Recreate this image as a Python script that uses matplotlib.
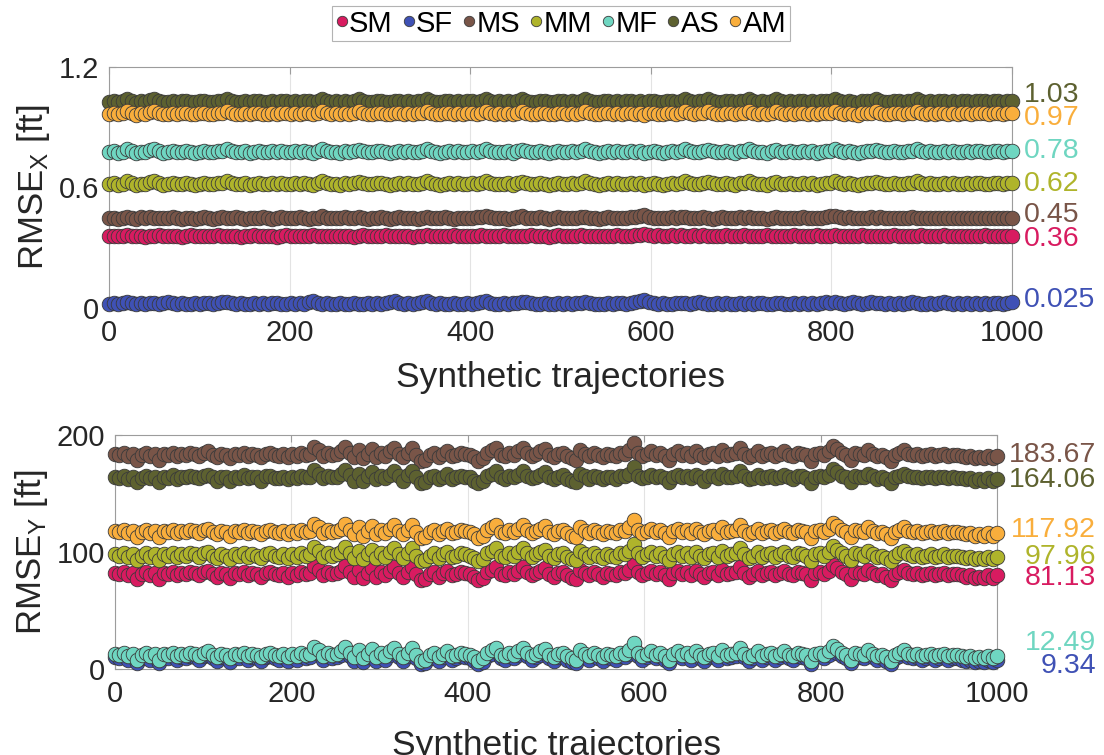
import numpy as np
import matplotlib
matplotlib.use("Agg")
import matplotlib.pyplot as plt
from matplotlib.lines import Line2D
from matplotlib.transforms import blended_transform_factory

plt.rcParams["font.family"] = ["Liberation Sans", "DejaVu Sans"]
plt.rcParams["mathtext.fontset"] = "custom"
plt.rcParams["mathtext.rm"] = "Liberation Sans"
plt.rcParams["mathtext.it"] = "Liberation Sans"

# ---------------------------------------------------------------- data
METHODS = ["SM", "SF", "MS", "MM", "MF", "AS", "AM"]
COLORS = ["#D81B60", "#3F51B5", "#795548", "#AFB42B", "#6FD6C1", "#5D6130", "#F9AE3C"]

# mean RMSE printed next to each series
MEAN_X = [0.36, 0.025, 0.45, 0.62, 0.78, 1.03, 0.97]
MEAN_Y = [81.13, 9.34, 183.67, 97.96, 12.49, 164.06, 117.92]

# RMSE_X [ft] per synthetic trajectory (200 sampled trajectories)
SM_X = [0.359, 0.357, 0.360, 0.358, 0.361, 0.357, 0.359, 0.358, 0.356, 0.360,
        0.358, 0.361, 0.357, 0.359, 0.358, 0.360, 0.356, 0.359, 0.361, 0.358,
        0.357, 0.360, 0.359, 0.358, 0.361, 0.357, 0.360, 0.358, 0.359, 0.356,
        0.360, 0.358, 0.361, 0.357, 0.359, 0.360, 0.358, 0.356, 0.359, 0.361,
        0.358, 0.360, 0.357, 0.359, 0.358, 0.361, 0.359, 0.357, 0.360, 0.358,
        0.359, 0.357, 0.360, 0.358, 0.356, 0.359, 0.361, 0.358, 0.360, 0.357,
        0.359, 0.361, 0.358, 0.357, 0.360, 0.358, 0.359, 0.356, 0.360, 0.358,
        0.361, 0.359, 0.357, 0.360, 0.358, 0.359, 0.361, 0.357, 0.358, 0.360,
        0.358, 0.360, 0.363, 0.359, 0.357, 0.360, 0.358, 0.361, 0.359, 0.357,
        0.360, 0.358, 0.359, 0.361, 0.357, 0.360, 0.358, 0.356, 0.359, 0.361,
        0.358, 0.360, 0.357, 0.359, 0.361, 0.358, 0.360, 0.357, 0.359, 0.358,
        0.360, 0.358, 0.361, 0.357, 0.359, 0.360, 0.362, 0.364, 0.366, 0.361,
        0.359, 0.362, 0.358, 0.360, 0.363, 0.359, 0.361, 0.358, 0.360, 0.362,
        0.359, 0.361, 0.358, 0.360, 0.357, 0.359, 0.361, 0.358, 0.360, 0.358,
        0.361, 0.359, 0.357, 0.360, 0.358, 0.361, 0.359, 0.357, 0.360, 0.358,
        0.359, 0.361, 0.358, 0.360, 0.357, 0.359, 0.361, 0.358, 0.360, 0.358,
        0.361, 0.359, 0.358, 0.360, 0.357, 0.359, 0.361, 0.358, 0.360, 0.359,
        0.357, 0.360, 0.358, 0.361, 0.359, 0.357, 0.360, 0.358, 0.359, 0.361,
        0.358, 0.360, 0.357, 0.359, 0.361, 0.358, 0.360, 0.358, 0.359, 0.357,
        0.360, 0.358, 0.359, 0.361, 0.358, 0.360, 0.357, 0.359, 0.360, 0.358]

SF_X = [0.022, 0.026, 0.020, 0.024, 0.030, 0.023, 0.019, 0.025, 0.021, 0.027,
        0.024, 0.020, 0.026, 0.030, 0.023, 0.021, 0.025, 0.022, 0.019, 0.024,
        0.021, 0.025, 0.023, 0.020, 0.026, 0.031, 0.028, 0.023, 0.020, 0.024,
        0.022, 0.019, 0.024, 0.021, 0.025, 0.020, 0.023, 0.026, 0.021, 0.019,
        0.023, 0.020, 0.025, 0.022, 0.030, 0.035, 0.026, 0.021, 0.024, 0.020,
        0.022, 0.026, 0.021, 0.019, 0.024, 0.022, 0.020, 0.025, 0.021, 0.023,
        0.020, 0.024, 0.030, 0.034, 0.025, 0.021, 0.023, 0.019, 0.024, 0.028,
        0.033, 0.026, 0.021, 0.024, 0.020, 0.022, 0.025, 0.021, 0.019, 0.023,
        0.021, 0.025, 0.029, 0.033, 0.026, 0.022, 0.020, 0.024, 0.021, 0.023,
        0.025, 0.028, 0.032, 0.027, 0.022, 0.020, 0.024, 0.021, 0.019, 0.023,
        0.021, 0.024, 0.020, 0.023, 0.027, 0.031, 0.025, 0.021, 0.019, 0.022,
        0.024, 0.020, 0.023, 0.026, 0.022, 0.025, 0.030, 0.036, 0.042, 0.030,
        0.024, 0.021, 0.025, 0.022, 0.020, 0.024, 0.027, 0.023, 0.020, 0.025,
        0.032, 0.026, 0.022, 0.020, 0.024, 0.021, 0.023, 0.019, 0.022, 0.025,
        0.021, 0.024, 0.020, 0.023, 0.026, 0.022, 0.019, 0.023, 0.025, 0.021,
        0.020, 0.024, 0.022, 0.026, 0.021, 0.023, 0.020, 0.025, 0.030, 0.027,
        0.032, 0.026, 0.022, 0.025, 0.029, 0.024, 0.021, 0.026, 0.031, 0.027,
        0.023, 0.020, 0.024, 0.021, 0.025, 0.022, 0.027, 0.031, 0.026, 0.022,
        0.020, 0.023, 0.021, 0.025, 0.029, 0.024, 0.021, 0.023, 0.020, 0.024,
        0.022, 0.025, 0.021, 0.023, 0.020, 0.024, 0.027, 0.022, 0.025, 0.028]

MS_X = [0.447, 0.450, 0.445, 0.449, 0.455, 0.448, 0.444, 0.451, 0.447, 0.452,
        0.449, 0.446, 0.450, 0.447, 0.453, 0.448, 0.445, 0.450, 0.447, 0.444,
        0.450, 0.453, 0.447, 0.445, 0.449, 0.451, 0.446, 0.448, 0.452, 0.447,
        0.445, 0.450, 0.448, 0.446, 0.451, 0.449, 0.444, 0.450, 0.455, 0.448,
        0.446, 0.449, 0.452, 0.447, 0.445, 0.450, 0.448, 0.456, 0.449, 0.446,
        0.450, 0.447, 0.452, 0.446, 0.449, 0.455, 0.448, 0.445, 0.450, 0.447,
        0.452, 0.448, 0.445, 0.449, 0.451, 0.446, 0.450, 0.447, 0.444, 0.449,
        0.453, 0.450, 0.446, 0.448, 0.451, 0.447, 0.445, 0.450, 0.448, 0.446,
        0.449, 0.451, 0.455, 0.460, 0.452, 0.447, 0.450, 0.448, 0.445, 0.449,
        0.452, 0.458, 0.450, 0.446, 0.448, 0.451, 0.447, 0.445, 0.449, 0.452,
        0.448, 0.446, 0.450, 0.447, 0.452, 0.455, 0.449, 0.446, 0.444, 0.450,
        0.453, 0.448, 0.450, 0.446, 0.449, 0.452, 0.455, 0.458, 0.462, 0.452,
        0.448, 0.450, 0.446, 0.449, 0.452, 0.447, 0.451, 0.455, 0.449, 0.446,
        0.450, 0.453, 0.448, 0.445, 0.449, 0.451, 0.447, 0.450, 0.446, 0.452,
        0.449, 0.455, 0.450, 0.446, 0.448, 0.445, 0.450, 0.453, 0.448, 0.446,
        0.450, 0.447, 0.449, 0.452, 0.446, 0.450, 0.447, 0.449, 0.453, 0.456,
        0.460, 0.454, 0.449, 0.451, 0.446, 0.449, 0.447, 0.450, 0.452, 0.448,
        0.451, 0.447, 0.446, 0.450, 0.448, 0.446, 0.449, 0.451, 0.448, 0.446,
        0.449, 0.447, 0.446, 0.448, 0.450, 0.447, 0.449, 0.446, 0.448, 0.447,
        0.446, 0.448, 0.447, 0.449, 0.446, 0.448, 0.447, 0.446, 0.448, 0.447]

MM_X = [0.617, 0.621, 0.614, 0.619, 0.632, 0.620, 0.613, 0.619, 0.617, 0.625,
        0.631, 0.620, 0.614, 0.617, 0.621, 0.615, 0.619, 0.623, 0.617, 0.614,
        0.619, 0.621, 0.617, 0.615, 0.620, 0.623, 0.631, 0.621, 0.615, 0.617,
        0.620, 0.614, 0.619, 0.621, 0.617, 0.615, 0.620, 0.617, 0.623, 0.619,
        0.615, 0.620, 0.617, 0.621, 0.619, 0.614, 0.623, 0.631, 0.620, 0.617,
        0.619, 0.614, 0.621, 0.617, 0.620, 0.629, 0.621, 0.615, 0.617, 0.620,
        0.623, 0.617, 0.614, 0.619, 0.621, 0.617, 0.620, 0.615, 0.619, 0.623,
        0.631, 0.621, 0.617, 0.614, 0.619, 0.620, 0.617, 0.621, 0.615, 0.619,
        0.620, 0.617, 0.623, 0.631, 0.620, 0.615, 0.619, 0.617, 0.621, 0.614,
        0.621, 0.629, 0.620, 0.617, 0.615, 0.620, 0.619, 0.614, 0.617, 0.621,
        0.619, 0.617, 0.620, 0.615, 0.621, 0.631, 0.620, 0.617, 0.614, 0.619,
        0.621, 0.617, 0.620, 0.615, 0.619, 0.623, 0.617, 0.620, 0.611, 0.619,
        0.620, 0.617, 0.614, 0.619, 0.621, 0.617, 0.623, 0.631, 0.620, 0.617,
        0.619, 0.621, 0.629, 0.620, 0.615, 0.617, 0.620, 0.619, 0.614, 0.621,
        0.620, 0.631, 0.621, 0.617, 0.619, 0.614, 0.620, 0.629, 0.619, 0.617,
        0.620, 0.615, 0.619, 0.621, 0.617, 0.620, 0.614, 0.619, 0.623, 0.620,
        0.631, 0.621, 0.617, 0.620, 0.615, 0.611, 0.619, 0.620, 0.621, 0.629,
        0.620, 0.617, 0.615, 0.621, 0.619, 0.617, 0.620, 0.623, 0.631, 0.620,
        0.617, 0.620, 0.615, 0.619, 0.621, 0.617, 0.620, 0.615, 0.619, 0.621,
        0.617, 0.620, 0.623, 0.619, 0.615, 0.620, 0.621, 0.617, 0.623, 0.620]

MF_X = [0.777, 0.781, 0.774, 0.779, 0.792, 0.780, 0.773, 0.779, 0.777, 0.785,
        0.791, 0.780, 0.774, 0.777, 0.781, 0.775, 0.779, 0.783, 0.777, 0.774,
        0.779, 0.781, 0.777, 0.775, 0.780, 0.783, 0.791, 0.781, 0.775, 0.777,
        0.780, 0.774, 0.779, 0.781, 0.777, 0.775, 0.780, 0.777, 0.783, 0.779,
        0.775, 0.780, 0.777, 0.781, 0.779, 0.774, 0.783, 0.791, 0.780, 0.777,
        0.779, 0.774, 0.781, 0.777, 0.780, 0.789, 0.781, 0.775, 0.777, 0.780,
        0.783, 0.777, 0.774, 0.779, 0.781, 0.777, 0.780, 0.775, 0.779, 0.783,
        0.791, 0.781, 0.777, 0.774, 0.779, 0.780, 0.777, 0.781, 0.775, 0.779,
        0.780, 0.777, 0.783, 0.791, 0.780, 0.775, 0.779, 0.777, 0.781, 0.774,
        0.781, 0.789, 0.780, 0.777, 0.775, 0.780, 0.779, 0.774, 0.777, 0.781,
        0.779, 0.777, 0.780, 0.775, 0.781, 0.791, 0.780, 0.777, 0.774, 0.779,
        0.781, 0.777, 0.780, 0.775, 0.779, 0.783, 0.777, 0.780, 0.771, 0.779,
        0.780, 0.777, 0.774, 0.779, 0.781, 0.777, 0.783, 0.791, 0.780, 0.777,
        0.779, 0.781, 0.789, 0.780, 0.775, 0.777, 0.780, 0.779, 0.774, 0.781,
        0.780, 0.791, 0.781, 0.777, 0.779, 0.774, 0.780, 0.789, 0.779, 0.777,
        0.780, 0.775, 0.779, 0.781, 0.777, 0.780, 0.774, 0.779, 0.783, 0.780,
        0.791, 0.781, 0.777, 0.780, 0.775, 0.771, 0.779, 0.780, 0.781, 0.789,
        0.780, 0.777, 0.775, 0.781, 0.779, 0.777, 0.780, 0.783, 0.791, 0.780,
        0.777, 0.780, 0.775, 0.779, 0.781, 0.777, 0.780, 0.775, 0.779, 0.781,
        0.777, 0.780, 0.783, 0.779, 0.775, 0.780, 0.781, 0.777, 0.783, 0.780]

AS_X = [1.027, 1.031, 1.024, 1.029, 1.042, 1.030, 1.023, 1.029, 1.027, 1.035,
        1.041, 1.030, 1.024, 1.027, 1.031, 1.025, 1.029, 1.033, 1.027, 1.024,
        1.029, 1.031, 1.027, 1.025, 1.030, 1.033, 1.041, 1.031, 1.025, 1.027,
        1.030, 1.024, 1.029, 1.031, 1.027, 1.025, 1.030, 1.027, 1.033, 1.029,
        1.025, 1.030, 1.027, 1.031, 1.029, 1.024, 1.033, 1.041, 1.030, 1.027,
        1.029, 1.024, 1.031, 1.027, 1.030, 1.039, 1.031, 1.025, 1.027, 1.030,
        1.033, 1.027, 1.024, 1.029, 1.031, 1.027, 1.030, 1.025, 1.029, 1.033,
        1.041, 1.031, 1.027, 1.024, 1.029, 1.030, 1.027, 1.031, 1.025, 1.029,
        1.030, 1.027, 1.033, 1.041, 1.030, 1.025, 1.029, 1.027, 1.031, 1.024,
        1.031, 1.039, 1.030, 1.027, 1.025, 1.030, 1.029, 1.024, 1.027, 1.031,
        1.029, 1.027, 1.030, 1.025, 1.031, 1.041, 1.030, 1.027, 1.024, 1.029,
        1.031, 1.027, 1.030, 1.025, 1.029, 1.033, 1.027, 1.030, 1.021, 1.029,
        1.030, 1.027, 1.024, 1.029, 1.031, 1.027, 1.033, 1.041, 1.030, 1.027,
        1.029, 1.031, 1.039, 1.030, 1.025, 1.027, 1.030, 1.029, 1.024, 1.031,
        1.030, 1.041, 1.031, 1.027, 1.029, 1.024, 1.030, 1.039, 1.029, 1.027,
        1.030, 1.025, 1.029, 1.031, 1.027, 1.030, 1.024, 1.029, 1.033, 1.030,
        1.041, 1.031, 1.027, 1.030, 1.025, 1.021, 1.029, 1.030, 1.031, 1.039,
        1.030, 1.027, 1.025, 1.031, 1.029, 1.027, 1.030, 1.033, 1.041, 1.030,
        1.027, 1.030, 1.025, 1.029, 1.031, 1.027, 1.030, 1.025, 1.029, 1.031,
        1.027, 1.030, 1.033, 1.029, 1.025, 1.030, 1.031, 1.027, 1.033, 1.030]

AM_X = [0.967, 0.971, 0.964, 0.969, 0.982, 0.970, 0.963, 0.969, 0.967, 0.975,
        0.981, 0.970, 0.964, 0.967, 0.971, 0.965, 0.969, 0.973, 0.967, 0.964,
        0.969, 0.971, 0.967, 0.965, 0.970, 0.973, 0.981, 0.971, 0.965, 0.967,
        0.970, 0.964, 0.969, 0.971, 0.967, 0.965, 0.970, 0.967, 0.973, 0.969,
        0.965, 0.970, 0.967, 0.971, 0.969, 0.964, 0.973, 0.981, 0.970, 0.967,
        0.969, 0.964, 0.971, 0.967, 0.970, 0.979, 0.971, 0.965, 0.967, 0.970,
        0.973, 0.967, 0.964, 0.969, 0.971, 0.967, 0.970, 0.965, 0.969, 0.973,
        0.981, 0.971, 0.967, 0.964, 0.969, 0.970, 0.967, 0.971, 0.965, 0.969,
        0.970, 0.967, 0.973, 0.981, 0.970, 0.965, 0.969, 0.967, 0.971, 0.964,
        0.971, 0.979, 0.970, 0.967, 0.965, 0.970, 0.969, 0.964, 0.967, 0.971,
        0.969, 0.967, 0.970, 0.965, 0.971, 0.981, 0.970, 0.967, 0.964, 0.969,
        0.971, 0.967, 0.970, 0.965, 0.969, 0.973, 0.967, 0.970, 0.961, 0.969,
        0.970, 0.967, 0.964, 0.969, 0.971, 0.967, 0.973, 0.981, 0.970, 0.967,
        0.969, 0.971, 0.979, 0.970, 0.965, 0.967, 0.970, 0.969, 0.964, 0.971,
        0.970, 0.981, 0.971, 0.967, 0.969, 0.964, 0.970, 0.979, 0.969, 0.967,
        0.970, 0.965, 0.969, 0.971, 0.967, 0.970, 0.964, 0.969, 0.973, 0.970,
        0.981, 0.971, 0.967, 0.970, 0.965, 0.961, 0.969, 0.970, 0.971, 0.979,
        0.970, 0.967, 0.965, 0.971, 0.969, 0.967, 0.970, 0.973, 0.981, 0.970,
        0.967, 0.970, 0.965, 0.969, 0.971, 0.967, 0.970, 0.965, 0.969, 0.971,
        0.967, 0.970, 0.973, 0.969, 0.965, 0.970, 0.971, 0.967, 0.973, 0.970]

# RMSE_Y [ft] per synthetic trajectory
SM_Y = [82, 81, 83, 80, 82, 77, 81, 83, 80, 82,
        77, 82, 81, 83, 80, 82, 81, 83, 82, 80,
        83, 84, 81, 79, 82, 81, 78, 82, 81, 83,
        80, 82, 81, 79, 82, 83, 81, 80, 82, 79,
        82, 80, 83, 81, 82, 88, 85, 80, 83, 81,
        82, 84, 88, 83, 79, 85, 78, 82, 86, 79,
        83, 80, 84, 87, 82, 79, 83, 87, 81, 76,
        77, 81, 83, 79, 82, 84, 80, 81, 83, 82,
        81, 79, 76, 78, 83, 85, 87, 81, 80, 83,
        81, 84, 87, 83, 80, 82, 84, 86, 81, 79,
        82, 83, 80, 78, 77, 85, 82, 80, 83, 81,
        79, 82, 81, 80, 83, 82, 85, 91, 83, 80,
        82, 84, 81, 83, 80, 77, 82, 84, 81, 83,
        80, 84, 81, 79, 82, 83, 80, 85, 81, 82,
        83, 87, 82, 79, 81, 84, 80, 82, 83, 80,
        82, 84, 81, 80, 83, 82, 81, 76, 82, 83,
        81, 84, 89, 86, 83, 81, 77, 83, 82, 81,
        85, 82, 80, 81, 79, 76, 81, 83, 85, 82,
        81, 82, 80, 81, 82, 80, 81, 82, 80, 81,
        81, 80, 79, 80, 78, 79, 78, 80, 78, 80]

SF_Y = [10, 9, 11, 8, 10, 5, 9, 11, 8, 10,
        5, 10, 9, 11, 8, 10, 9, 11, 10, 8,
        11, 12, 9, 7, 10, 9, 6, 10, 9, 11,
        8, 10, 9, 7, 10, 11, 9, 8, 10, 7,
        10, 8, 11, 9, 10, 16, 13, 8, 11, 9,
        10, 12, 16, 11, 7, 13, 6, 10, 14, 7,
        11, 8, 12, 15, 10, 7, 11, 15, 9, 4,
        5, 9, 11, 7, 10, 12, 8, 9, 11, 10,
        9, 7, 4, 6, 11, 13, 15, 9, 8, 11,
        9, 12, 15, 11, 8, 10, 12, 14, 9, 7,
        10, 11, 8, 6, 5, 13, 10, 8, 11, 9,
        7, 10, 9, 8, 11, 10, 13, 19, 11, 8,
        10, 12, 9, 11, 8, 5, 10, 12, 9, 11,
        8, 12, 9, 7, 10, 11, 8, 13, 9, 10,
        11, 15, 10, 7, 9, 12, 8, 10, 11, 8,
        10, 12, 9, 8, 11, 10, 9, 4, 10, 11,
        9, 12, 17, 14, 11, 9, 5, 11, 10, 9,
        13, 10, 8, 9, 7, 4, 9, 11, 13, 10,
        9, 10, 8, 9, 10, 8, 9, 10, 8, 9,
        9, 8, 7, 8, 6, 7, 6, 8, 6, 8]

MS_Y = [184, 183, 185, 182, 184, 179, 183, 185, 182, 184,
        179, 184, 183, 185, 182, 184, 183, 185, 184, 182,
        185, 186, 183, 181, 184, 183, 180, 184, 183, 185,
        182, 184, 183, 181, 184, 185, 183, 182, 184, 181,
        184, 182, 185, 183, 184, 190, 187, 182, 185, 183,
        184, 186, 190, 185, 181, 187, 180, 184, 188, 181,
        185, 182, 186, 189, 184, 181, 185, 189, 183, 178,
        179, 183, 185, 181, 184, 186, 182, 183, 185, 184,
        183, 181, 178, 180, 185, 187, 189, 183, 182, 185,
        183, 186, 189, 185, 182, 184, 186, 188, 183, 181,
        184, 185, 182, 180, 179, 187, 184, 182, 185, 183,
        181, 184, 183, 182, 185, 184, 187, 193, 185, 182,
        184, 186, 183, 185, 182, 179, 184, 186, 183, 185,
        182, 186, 183, 181, 184, 185, 182, 187, 183, 184,
        185, 189, 184, 181, 183, 186, 182, 184, 185, 182,
        184, 186, 183, 182, 185, 184, 183, 178, 184, 185,
        183, 186, 191, 188, 185, 183, 179, 185, 184, 183,
        187, 184, 182, 183, 181, 178, 183, 185, 187, 184,
        183, 184, 182, 183, 184, 182, 183, 184, 182, 183,
        183, 182, 181, 182, 180, 181, 180, 182, 180, 182]

MM_Y = [98, 97, 99, 96, 98, 93, 97, 99, 96, 98,
        93, 98, 97, 99, 96, 98, 97, 99, 98, 96,
        99, 100, 97, 95, 98, 97, 94, 98, 97, 99,
        96, 98, 97, 95, 98, 99, 97, 96, 98, 95,
        98, 96, 99, 97, 98, 104, 101, 96, 99, 97,
        98, 100, 104, 99, 95, 101, 94, 98, 102, 95,
        99, 96, 100, 103, 98, 95, 99, 103, 97, 92,
        93, 97, 99, 95, 98, 100, 96, 97, 99, 98,
        97, 95, 92, 94, 99, 101, 103, 97, 96, 99,
        97, 100, 103, 99, 96, 98, 100, 102, 97, 95,
        98, 99, 96, 94, 93, 101, 98, 96, 99, 97,
        95, 98, 97, 96, 99, 98, 101, 107, 99, 96,
        98, 100, 97, 99, 96, 93, 98, 100, 97, 99,
        96, 100, 97, 95, 98, 99, 96, 101, 97, 98,
        99, 103, 98, 95, 97, 100, 96, 98, 99, 96,
        98, 100, 97, 96, 99, 98, 97, 92, 98, 99,
        97, 100, 105, 102, 99, 97, 93, 99, 98, 97,
        101, 98, 96, 97, 95, 92, 97, 99, 101, 98,
        97, 98, 96, 97, 98, 96, 97, 98, 96, 97,
        97, 96, 95, 96, 94, 95, 94, 96, 94, 96]

MF_Y = [13, 12, 14, 11, 13, 8, 12, 14, 11, 13,
        8, 13, 12, 14, 11, 13, 12, 14, 13, 11,
        14, 15, 12, 10, 13, 12, 9, 13, 12, 14,
        11, 13, 12, 10, 13, 14, 12, 11, 13, 10,
        13, 11, 14, 12, 13, 19, 16, 11, 14, 12,
        13, 15, 19, 14, 10, 16, 9, 13, 17, 10,
        14, 11, 15, 18, 13, 10, 14, 18, 12, 7,
        8, 12, 14, 10, 13, 15, 11, 12, 14, 13,
        12, 10, 7, 9, 14, 16, 18, 12, 11, 14,
        12, 15, 18, 14, 11, 13, 15, 17, 12, 10,
        13, 14, 11, 9, 8, 16, 13, 11, 14, 12,
        10, 13, 12, 11, 14, 13, 16, 22, 14, 11,
        13, 15, 12, 14, 11, 8, 13, 15, 12, 14,
        11, 15, 12, 10, 13, 14, 11, 16, 12, 13,
        14, 18, 13, 10, 12, 15, 11, 13, 14, 11,
        13, 15, 12, 11, 14, 13, 12, 7, 13, 14,
        12, 15, 20, 17, 14, 12, 8, 14, 13, 12,
        16, 13, 11, 12, 10, 7, 12, 14, 16, 13,
        12, 13, 11, 12, 13, 11, 12, 13, 11, 12,
        12, 11, 10, 11, 9, 10, 9, 11, 9, 11]

AS_Y = [164, 163, 165, 162, 164, 160, 163, 165, 163, 164,
        160, 164, 163, 166, 162, 164, 164, 165, 164, 163,
        165, 166, 164, 161, 164, 164, 161, 164, 163, 166,
        163, 164, 164, 161, 165, 165, 163, 163, 164, 162,
        164, 163, 165, 164, 164, 170, 167, 163, 165, 164,
        164, 167, 170, 166, 161, 167, 161, 165, 168, 162,
        165, 163, 166, 169, 165, 161, 166, 169, 164, 159,
        160, 164, 165, 162, 164, 167, 162, 164, 165, 164,
        164, 161, 159, 161, 165, 167, 169, 164, 162, 165,
        164, 166, 169, 165, 163, 164, 166, 168, 164, 162,
        164, 166, 162, 161, 160, 167, 165, 162, 165, 164,
        162, 164, 164, 162, 165, 165, 167, 173, 165, 163,
        164, 166, 164, 165, 163, 160, 164, 166, 164, 165,
        163, 166, 164, 161, 165, 165, 163, 167, 164, 164,
        165, 169, 165, 162, 163, 166, 163, 164, 165, 163,
        164, 166, 164, 162, 165, 165, 163, 159, 164, 165,
        164, 166, 171, 168, 165, 164, 160, 165, 164, 164,
        167, 165, 162, 164, 162, 159, 164, 165, 167, 165,
        164, 164, 163, 164, 164, 163, 164, 164, 163, 164,
        163, 163, 162, 163, 161, 162, 161, 163, 161, 162]

AM_Y = [118, 117, 119, 116, 118, 113, 117, 119, 116, 118,
        113, 118, 117, 119, 116, 118, 117, 119, 118, 116,
        119, 120, 117, 115, 118, 117, 114, 118, 117, 119,
        116, 118, 117, 115, 118, 119, 117, 116, 118, 115,
        118, 116, 119, 117, 118, 124, 121, 116, 119, 117,
        118, 120, 124, 119, 115, 121, 114, 118, 122, 115,
        119, 116, 120, 123, 118, 115, 119, 123, 117, 112,
        113, 117, 119, 115, 118, 120, 116, 117, 119, 118,
        117, 115, 112, 114, 119, 121, 123, 117, 116, 119,
        117, 120, 123, 119, 116, 118, 120, 122, 117, 115,
        118, 119, 116, 114, 113, 121, 118, 116, 119, 117,
        115, 118, 117, 116, 119, 118, 121, 127, 119, 116,
        118, 120, 117, 119, 116, 113, 118, 120, 117, 119,
        116, 120, 117, 115, 118, 119, 116, 121, 117, 118,
        119, 123, 118, 115, 117, 120, 116, 118, 119, 116,
        118, 120, 117, 116, 119, 118, 117, 112, 118, 119,
        117, 120, 125, 122, 119, 117, 113, 119, 118, 117,
        121, 118, 116, 117, 115, 112, 117, 119, 121, 118,
        117, 118, 116, 117, 118, 116, 117, 118, 116, 117,
        117, 116, 115, 116, 114, 115, 114, 116, 114, 116]

SERIES_X = [SM_X, SF_X, MS_X, MM_X, MF_X, AS_X, AM_X]
SERIES_Y = [SM_Y, SF_Y, MS_Y, MM_Y, MF_Y, AS_Y, AM_Y]

# ---------------------------------------------------------------- layout
W, H = 1104, 755
TEXT = "#262626"
BOX = "#9C9C9C"
GRID = "#E3E3E3"
EDGE = "#3A3A3A"

# vertical placement of the mean annotations (kept apart where bands are close)
ANN_POS_X = [0.344, 0.040, 0.463, 0.617, 0.783, 1.061, 0.945]
ANN_POS_Y = [77.5, 2.8, 182.9, 96.0, 22.0, 161.5, 118.8]

fig = plt.figure(figsize=(W / 100, H / 100), dpi=100)


def px_axes(left, top, right, bottom):
    return fig.add_axes([left / W, 1 - bottom / H, (right - left) / W, (bottom - top) / H])


ax1 = px_axes(109, 67, 1012, 308)
ax2 = px_axes(115, 435, 997, 669)


def style(ax, ylim, yticks, yticklabels):
    ax.set_xlim(0, 1000)
    ax.set_ylim(*ylim)
    ax.set_xticks(np.arange(0, 1001, 200))
    ax.set_yticks(yticks)
    ax.set_yticklabels(yticklabels)
    ax.tick_params(axis="both", which="both", direction="in", length=5, width=0.8,
                   color=BOX, labelcolor=TEXT, labelsize=21, top=True, right=True)
    ax.tick_params(axis="x", pad=8)
    ax.tick_params(axis="y", pad=7)
    for s in ax.spines.values():
        s.set_color(BOX)
        s.set_linewidth(0.8)
    ax.grid(axis="x", color=GRID, linewidth=0.8)
    ax.set_axisbelow(True)


style(ax1, (0, 1.2), [0, 0.6, 1.2], ["0", "0.6", "1.2"])
style(ax2, (0, 200), [0, 100, 200], ["0", "100", "200"])

n = len(SM_X)
traj = np.linspace(0, 1000, n)

for vals, col in zip(SERIES_X, COLORS):
    ax1.scatter(traj, vals, s=110, facecolor=col, edgecolor=EDGE, linewidth=0.6,
                clip_on=False, zorder=3)
for vals, col in zip(SERIES_Y, COLORS):
    ax2.scatter(traj, vals, s=110, facecolor=col, edgecolor=EDGE, linewidth=0.6,
                clip_on=False, zorder=3)

# mean annotations on the right-hand side
tr1 = blended_transform_factory(ax1.transAxes, ax1.transData)
for m, yp, col in zip(MEAN_X, ANN_POS_X, COLORS):
    ax1.text(1.0135, yp, f"{m:g}", transform=tr1, color=col, fontsize=20.5,
             ha="left", va="center", clip_on=False)
tr2 = blended_transform_factory(ax2.transAxes, ax2.transData)
for m, yp, col in zip(MEAN_Y, ANN_POS_Y, COLORS):
    ax2.text(1.112, yp, f"{m:.2f}", transform=tr2, color=col, fontsize=20.5,
             ha="right", va="center", clip_on=False)

ax1.set_xlabel("Synthetic trajectories", fontsize=25.5, color=TEXT)
ax2.set_xlabel("Synthetic trajectories", fontsize=25.5, color=TEXT)
ax1.set_ylabel(r"RMSE$_\mathregular{X}$ [ft]", fontsize=25, color=TEXT)
ax2.set_ylabel(r"RMSE$_\mathregular{Y}$ [ft]", fontsize=25, color=TEXT)
ax1.xaxis.set_label_coords(0.5, -0.22)
ax2.xaxis.set_label_coords(0.5, -0.255)
ax1.yaxis.set_label_coords(-0.063, 0.5)
ax2.yaxis.set_label_coords(-0.074, 0.5)

handles = [Line2D([], [], ls="", marker="o", markersize=7.5, markerfacecolor=c,
                  markeredgecolor=EDGE, markeredgewidth=0.6) for c in COLORS]
leg = fig.legend(handles, METHODS, ncol=7, loc="center",
                 bbox_to_anchor=(561 / W, 1 - 23.5 / H), fontsize=21,
                 frameon=True, fancybox=False, edgecolor="#A0A0A0",
                 handlelength=0.4, handletextpad=0.05, columnspacing=0.35,
                 borderpad=0.12, borderaxespad=0.0)
leg.get_frame().set_linewidth(0.8)
for t in leg.get_texts():
    t.set_color("black")

fig.savefig("out.png", dpi=100)
